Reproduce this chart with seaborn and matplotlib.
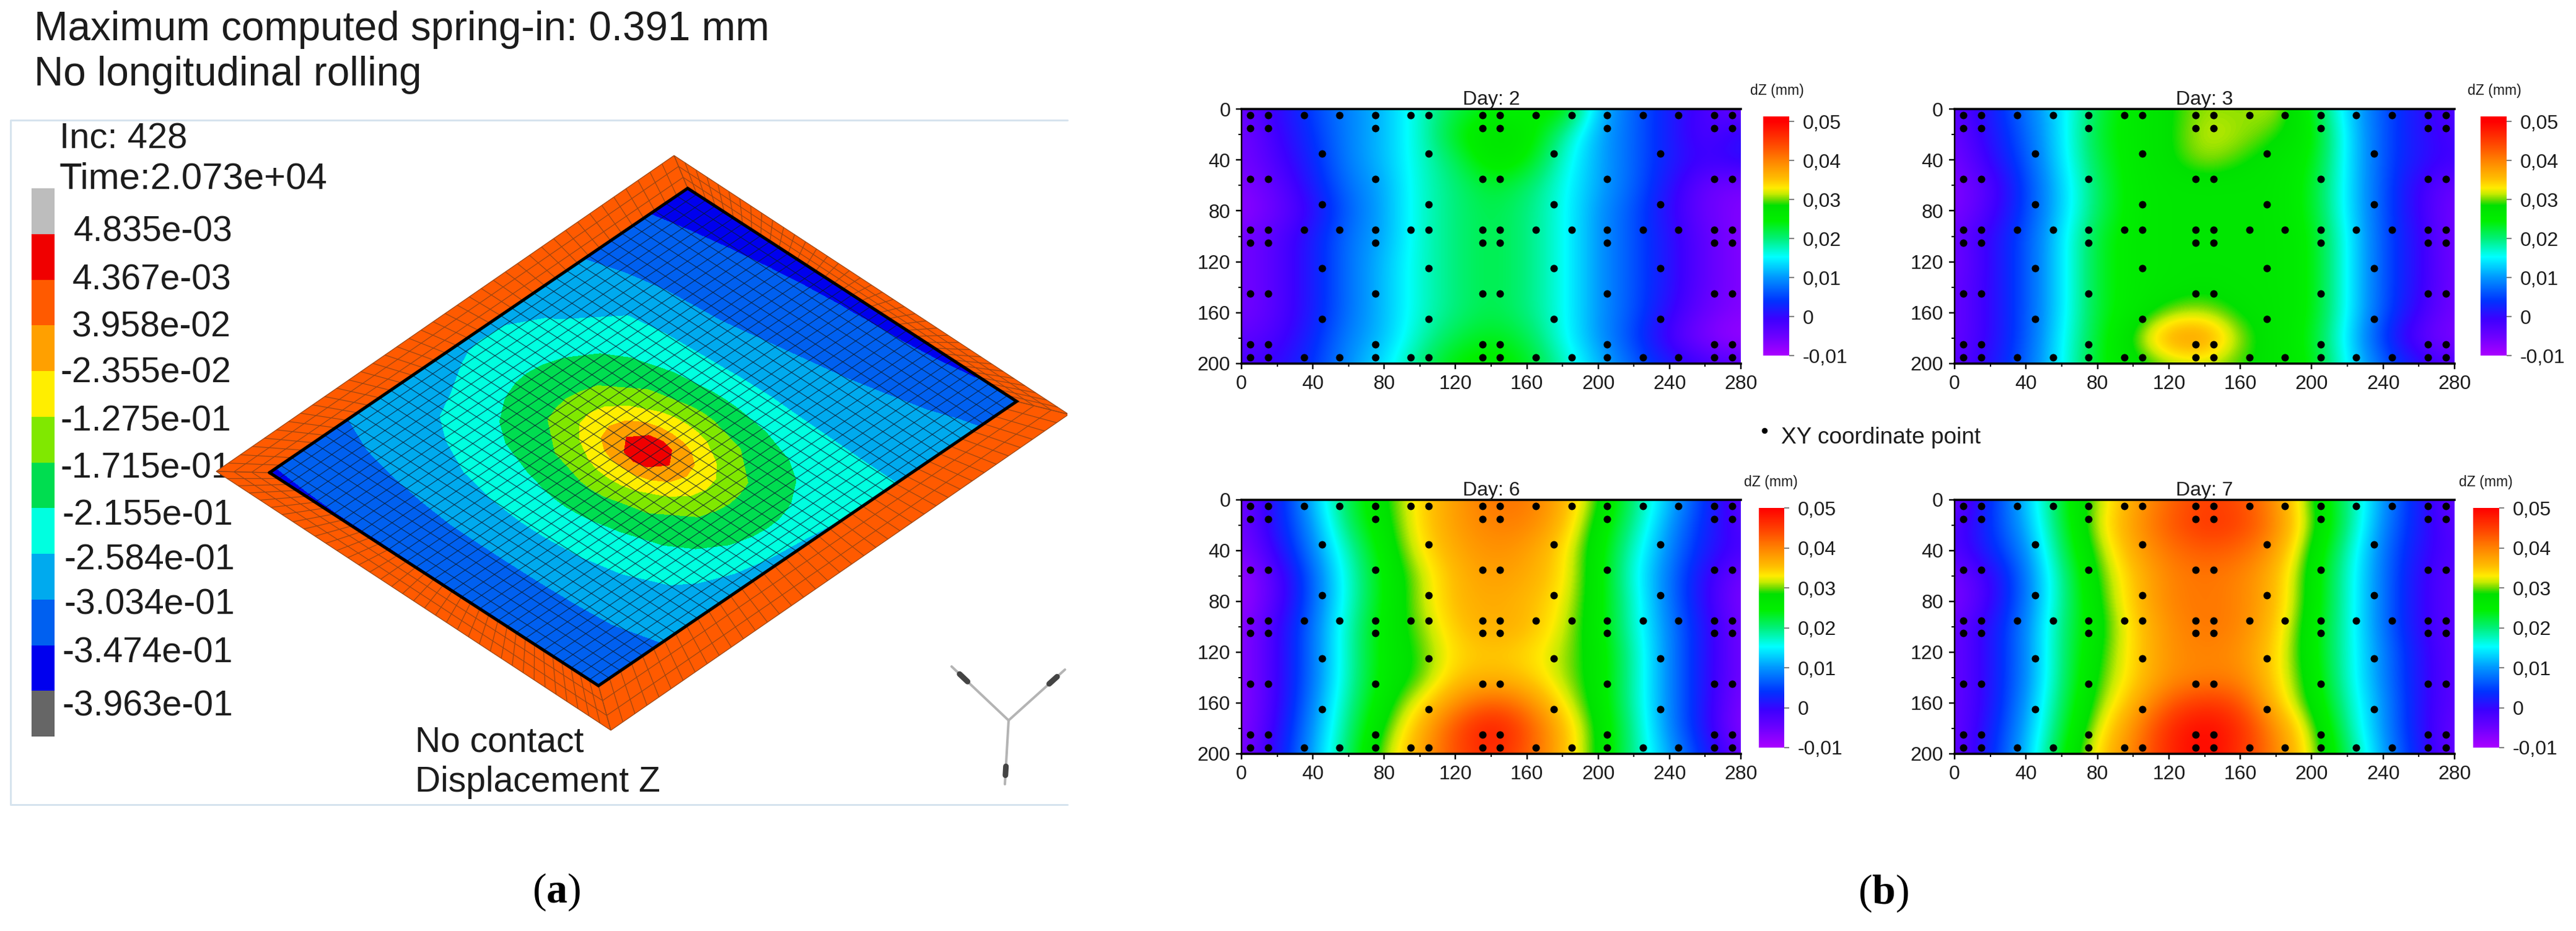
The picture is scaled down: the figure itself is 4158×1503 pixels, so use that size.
import numpy as np
import pandas as pd
import seaborn as sns
import matplotlib
matplotlib.use("Agg")
import matplotlib.pyplot as plt
from matplotlib.colors import LinearSegmentedColormap, ListedColormap
from matplotlib.patches import Rectangle

# (b) measured dZ in mm, rows are Y = 0..200, columns are X = 0..280, step 20 mm
grid_x = list(range(0, 281, 20))
grid_y = list(range(0, 201, 20))

day2_dz = [
    [-.005, .000, .005, .009, .012, .017, .022, .024, .024, .027, .012, .007, .002, -.002, -.005],
    [-.006, -.001, .004, .009, .012, .017, .024, .028, .027, .019, .011, .007, .002, -.003, .001],
    [-.006, -.002, .003, .009, .012, .017, .021, .027, .025, .017, .011, .007, .002, -.001, .001],
    [-.007, -.004, .002, .008, .011, .017, .020, .023, .021, .016, .011, .007, .001, -.005, -.006],
    [-.008, -.005, .000, .007, .011, .017, .020, .022, .020, .016, .010, .006, .000, -.005, -.007],
    [-.006, -.003, .002, .008, .011, .017, .020, .022, .020, .016, .010, .006, .001, -.004, -.007],
    [-.006, -.003, .002, .008, .012, .017, .020, .022, .020, .016, .010, .006, .001, -.004, -.007],
    [-.006, -.003, .002, .008, .012, .017, .020, .022, .020, .016, .010, .006, .001, -.004, -.007],
    [-.006, -.003, .002, .008, .012, .017, .020, .022, .020, .016, .010, .006, .000, -.005, -.007],
    [-.004, -.002, .003, .009, .012, .018, .022, .024, .022, .016, .010, .005, -.002, -.007, -.009],
    [-.002, .000, .004, .010, .014, .020, .025, .026, .024, .018, .012, .007, .002, -.001, -.003],
]
day3_dz = [
    [-.004, .002, .008, .014, .022, .026, .028, .031, .030, .032, .024, .013, .006, .001, -.003],
    [-.005, .001, .007, .014, .023, .026, .028, .032, .031, .029, .026, .014, .006, .001, -.002],
    [-.006, .000, .006, .014, .022, .026, .028, .031, .029, .027, .025, .014, .006, .001, -.001],
    [-.007, -.003, .005, .013, .021, .026, .027, .027, .027, .027, .024, .014, .006, -.001, -.005],
    [-.007, -.002, .005, .013, .021, .026, .027, .027, .027, .027, .024, .014, .006, -.001, -.006],
    [-.005, .000, .006, .014, .023, .026, .027, .027, .027, .027, .025, .015, .006, .000, -.006],
    [-.006, .000, .006, .014, .023, .026, .027, .027, .027, .027, .025, .015, .006, .000, -.006],
    [-.005, .000, .006, .014, .023, .026, .027, .028, .027, .027, .025, .015, .006, .000, -.006],
    [-.005, .000, .006, .014, .023, .026, .030, .031, .028, .027, .025, .015, .006, -.001, -.006],
    [-.005, .000, .006, .015, .023, .029, .039, .040, .030, .027, .024, .014, .004, -.004, -.007],
    [-.004, .001, .007, .015, .024, .027, .030, .031, .029, .027, .025, .015, .007, .001, -.003],
]
day6_dz = [
    [-.006, .002, .012, .022, .028, .034, .038, .041, .041, .037, .029, .020, .012, .004, -.004],
    [-.006, .002, .010, .021, .027, .034, .038, .040, .040, .036, .027, .019, .010, .003, -.003],
    [-.007, .000, .009, .018, .026, .033, .037, .039, .038, .034, .026, .017, .009, .002, -.002],
    [-.009, -.003, .007, .017, .025, .031, .036, .038, .037, .034, .026, .016, .008, .000, -.006],
    [-.009, -.003, .007, .017, .025, .031, .036, .037, .036, .033, .026, .017, .008, .000, -.007],
    [-.008, -.001, .008, .018, .026, .030, .035, .037, .036, .032, .026, .017, .009, .001, -.006],
    [-.008, -.001, .008, .018, .026, .029, .034, .035, .034, .031, .027, .018, .009, .001, -.006],
    [-.008, -.001, .008, .018, .026, .029, .035, .036, .035, .031, .027, .018, .009, .001, -.006],
    [-.008, -.001, .009, .019, .027, .033, .039, .043, .040, .033, .027, .018, .009, .001, -.007],
    [-.008, .000, .010, .020, .029, .036, .044, .049, .044, .036, .028, .019, .009, .001, -.008],
    [-.007, .001, .011, .021, .031, .037, .044, .047, .043, .036, .028, .019, .011, .003, -.005],
]
day7_dz = [
    [-.006, .004, .012, .023, .031, .037, .042, .045, .044, .039, .029, .020, .010, .002, -.005],
    [-.003, .004, .011, .022, .032, .038, .043, .046, .045, .040, .030, .020, .009, .002, -.004],
    [-.003, .003, .009, .021, .030, .037, .041, .043, .042, .038, .028, .018, .008, .001, -.003],
    [-.006, -.001, .008, .019, .029, .035, .040, .041, .040, .036, .027, .017, .008, .000, -.004],
    [-.007, -.001, .008, .019, .028, .035, .040, .041, .040, .036, .027, .017, .008, .000, -.004],
    [-.005, .001, .009, .020, .027, .034, .039, .041, .040, .035, .026, .017, .008, .000, -.004],
    [-.005, .001, .009, .020, .028, .034, .039, .040, .039, .034, .026, .017, .009, .001, -.004],
    [-.005, .001, .009, .020, .029, .034, .039, .040, .040, .034, .027, .017, .009, .001, -.004],
    [-.005, .001, .010, .021, .030, .036, .043, .046, .044, .035, .028, .018, .010, .001, -.004],
    [-.005, .002, .011, .022, .032, .039, .047, .050, .047, .039, .031, .019, .010, .001, -.005],
    [-.005, .003, .012, .024, .034, .040, .047, .050, .046, .040, .032, .021, .011, .002, -.005],
]
day_names = ["Day: 2", "Day: 3", "Day: 6", "Day: 7"]
day_fields = [day2_dz, day3_dz, day6_dz, day7_dz]

# XY coordinate points, three kinds of row
full_rows = [5, 95, 195]
full_xs = [5, 15, 35, 55, 75, 95, 105, 135, 145, 165, 185, 205, 225, 245, 265, 275]
mid_rows = [15, 55, 105, 145, 185]
mid_xs = [5, 15, 75, 135, 145, 205, 265, 275]
sparse_rows = [35, 75, 125, 165]
sparse_xs = [45, 105, 175, 235]

# colorbar of the (b) maps
scale_values = [-.01, -.0053, -.0007, .004, .01, .0153, .02, .0245, .0285, .03, .0315, .033, .0354, .04, .0443, .05, .0513]
scale_colors = ["#aa00ff", "#6e00ff", "#3c00ff", "#0032ff", "#0096ff", "#00ffff", "#00f078", "#00f000",
                "#00e100", "#6edc00", "#c8eb00", "#ffeb00", "#ffbe00", "#ff8200", "#ff4600", "#ff0000", "#ff0000"]
cbar_ticks = [-.01, 0, .01, .02, .03, .04, .05]
cbar_labels = ["-0,01", "0", "0,01", "0,02", "0,03", "0,04", "0,05"]

# (a) legend of the contour plot, top to bottom
legend_labels = ["4.835e-03", "4.367e-03", "3.958e-02", "-2.355e-02", "-1.275e-01", "-1.715e-01",
                 "-2.155e-01", "-2.584e-01", "-3.034e-01", "-3.474e-01", "-3.963e-01"]
legend_colors = ["#bdbdbd", "#f00000", "#ff5a00", "#ffa000", "#ffee00", "#80e800",
                 "#00dd50", "#00ffe0", "#00aaee", "#0060f0", "#0000ee", "#666666"]
legend_cells = [[i] for i in range(12)]

# (a) displacement Z over the plate, read at plate fractions a (across rows) and b (down)
plate_a = [0, .1, .2, .3, .36, .42, .45, .48, .51, .54, .6, .7, .8, .9, 1]
plate_b = [0, .1, .2, .3, .4, .47, .505, .54, .575, .61, .68, .78, .88, 1]
plate_dz = [
    [-.351, -.329, -.300, -.278, -.270, -.265, -.263, -.262, -.262, -.262, -.266, -.288, -.318, -.345, -.370],
    [-.350, -.322, -.288, -.265, -.258, -.252, -.249, -.248, -.249, -.250, -.256, -.274, -.313, -.340, -.368],
    [-.349, -.318, -.279, -.247, -.226, -.212, -.206, -.204, -.206, -.212, -.226, -.258, -.308, -.335, -.366],
    [-.349, -.315, -.270, -.229, -.201, -.177, -.171, -.169, -.171, -.177, -.201, -.252, -.305, -.330, -.364],
    [-.349, -.312, -.264, -.217, -.178, -.132, -.110, -.102, -.110, -.132, -.178, -.250, -.302, -.325, -.362],
    [-.349, -.312, -.262, -.210, -.168, -.098, -.059, -.044, -.059, -.098, -.168, -.249, -.300, -.322, -.361],
    [-.349, -.312, -.261, -.208, -.162, -.088, -.040, -.011, -.040, -.088, -.162, -.248, -.299, -.321, -.360],
    [-.349, -.312, -.261, -.207, -.160, -.085, -.030, -.003, -.030, -.085, -.160, -.248, -.298, -.320, -.360],
    [-.349, -.312, -.261, -.208, -.162, -.088, -.040, -.011, -.040, -.088, -.162, -.248, -.297, -.319, -.359],
    [-.349, -.312, -.262, -.210, -.168, -.098, -.059, -.044, -.059, -.098, -.168, -.248, -.296, -.318, -.359],
    [-.349, -.312, -.264, -.217, -.178, -.132, -.110, -.102, -.110, -.132, -.178, -.250, -.294, -.316, -.358],
    [-.348, -.312, -.270, -.229, -.201, -.177, -.171, -.169, -.171, -.177, -.201, -.252, -.290, -.312, -.355],
    [-.345, -.312, -.279, -.247, -.226, -.212, -.206, -.204, -.206, -.212, -.226, -.254, -.285, -.308, -.350],
    [-.340, -.309, -.298, -.282, -.278, -.272, -.270, -.268, -.265, -.262, -.258, -.256, -.275, -.300, -.330],
]
plate_levels = [-.3963, -.3474, -.3034, -.2584, -.2155, -.1715, -.1275, -.0835, -.0395, .0048]
plate_colors = ["#0000ee", "#0060f0", "#00aaee", "#00ffe0", "#00dd50", "#80e800", "#ffee00", "#ffa000", "#f00000"]

W, H = 4158, 1503
sns.set_theme(style="white")
plt.rcParams["font.family"] = ["Liberation Sans", "DejaVu Sans"]
plt.rcParams["mathtext.fontset"] = "custom"
plt.rcParams["mathtext.rm"] = "Liberation Serif"
plt.rcParams["mathtext.bf"] = "Liberation Serif:bold"


def pt(px):
    return px * 0.72


def px_axes(l, t, r, b):
    return fig.add_axes([l / W, 1 - b / H, (r - l) / W, (b - t) / H])


fig = plt.figure(figsize=(W / 100, H / 100), dpi=100)
canvas = fig.add_axes([0, 0, 1, 1])
canvas.set_xlim(0, W)
canvas.set_ylim(H, 0)
canvas.axis("off")

# ---- panel a ----
ink = "#1c1c1c"
canvas.text(55, 65, "Maximum computed spring-in: 0.391 mm", fontsize=pt(65.5), color=ink, va="baseline")
canvas.text(55, 138, "No longitudinal rolling", fontsize=pt(65.5), color=ink, va="baseline")
canvas.plot([1723, 17, 17, 1723], [194, 194, 1299, 1299], color="#d6e3ee", lw=pt(3))
canvas.text(96, 225, "Inc: 428", fontsize=pt(58), color=ink, va="center")
canvas.text(96, 289, "Time:2.073e+04", fontsize=pt(60), color=ink, va="center")
canvas.text(670, 1198, "No contact", fontsize=pt(57), color=ink, va="center")
canvas.text(670, 1263, "Displacement Z", fontsize=pt(57), color=ink, va="center")

legend_y = [375, 453, 528, 603, 681, 756, 833, 904, 976, 1055, 1141]
legend_x = [376, 373, 373, 373, 373, 373, 376, 379, 379, 376, 376]
for lab, lx, ly in zip(legend_labels, legend_x, legend_y):
    canvas.text(lx, ly, lab, fontsize=pt(57), color=ink, ha="right", va="center")

strip_ax = px_axes(51, 304, 88, 1189)
sns.heatmap(legend_cells, cmap=ListedColormap(legend_colors), cbar=False, ax=strip_ax,
            xticklabels=False, yticklabels=False, vmin=0, vmax=11)

# plate corners in pixels: left, top, right, bottom
in_l, in_t, in_b = np.array([435, 763]), np.array([1110, 304]), np.array([966, 1107])
in_r = in_t + in_b - in_l
out_l, out_t, out_b = np.array([349, 761]), np.array([1088, 251]), np.array([986, 1179])
out_r = out_t + out_b - out_l
clip = Rectangle((17, 194), 1706, 1105, transform=canvas.transData)


def plate_xy(a, b):
    return (in_l[0] + a * (in_t[0] - in_l[0]) + b * (in_b[0] - in_l[0]),
            in_l[1] + a * (in_t[1] - in_l[1]) + b * (in_b[1] - in_l[1]))


def mesh_lines(c00, c10, c01, c11, nu, nv, color, lw, alpha=1):
    for u in np.linspace(0, 1, nu + 1):
        p0, p1 = c00 + u * (c10 - c00), c01 + u * (c11 - c01)
        ln, = canvas.plot([p0[0], p1[0]], [p0[1], p1[1]], color=color, lw=lw, alpha=alpha, zorder=4, solid_capstyle="butt")
        ln.set_clip_path(clip)
    for v in np.linspace(0, 1, nv + 1):
        p0, p1 = c00 + v * (c01 - c00), c10 + v * (c11 - c10)
        ln, = canvas.plot([p0[0], p1[0]], [p0[1], p1[1]], color=color, lw=lw, alpha=alpha, zorder=4, solid_capstyle="butt")
        ln.set_clip_path(clip)


# flange ring, then the field on top
ring = canvas.fill([out_l[0], out_t[0], out_r[0], out_b[0]], [out_l[1], out_t[1], out_r[1], out_b[1]],
                   color="#ff5a00", zorder=3, lw=0)[0]
ring.set_clip_path(clip)
mesh_lines(out_l, out_t, in_l, in_t, 38, 3, "#9a4512", pt(1.2))
mesh_lines(out_t, out_r, in_t, in_r, 36, 3, "#9a4512", pt(1.2))
mesh_lines(out_r, out_b, in_r, in_b, 38, 3, "#9a4512", pt(1.2))
mesh_lines(out_b, out_l, in_b, in_l, 36, 3, "#9a4512", pt(1.2))

aa, bb = np.meshgrid(plate_a, plate_b)
px, py = plate_xy(aa, bb)
cf = canvas.contourf(px, py, np.array(plate_dz), levels=plate_levels, colors=plate_colors, zorder=3.5)
mesh_lines(in_l, in_t, in_b, in_r, 38, 36, "#0a1a30", pt(1.3), alpha=0.7)
edge_x = [in_l[0], in_t[0], in_r[0], in_b[0], in_l[0]]
edge_y = [in_l[1], in_t[1], in_r[1], in_b[1], in_l[1]]
canvas.plot(edge_x, edge_y, color="black", lw=pt(5), zorder=5, solid_joinstyle="miter")

# triad
for arm_x, arm_y in [([1628, 1536], [1163, 1076]), ([1628, 1719], [1163, 1081]), ([1628, 1622], [1163, 1266])]:
    canvas.plot(arm_x, arm_y, color="#b4b4b4", lw=pt(4), zorder=3)
    tip_x = arm_x[0] + np.array([.72, .86]) * (arm_x[1] - arm_x[0])
    tip_y = arm_y[0] + np.array([.72, .86]) * (arm_y[1] - arm_y[0])
    canvas.plot(tip_x, tip_y, color="#444444", lw=pt(9), zorder=3)

canvas.text(898, 1440, r"$\mathrm{(}\mathbf{a}\mathrm{)}$", fontsize=pt(68), ha="center", va="center", color="black")
canvas.text(3040, 1442, r"$\mathrm{(}\mathbf{b}\mathrm{)}$", fontsize=pt(68), ha="center", va="center", color="black")

# ---- panel b ----
points = pd.concat(
    [pd.DataFrame({"x": np.repeat(xs, len(rows)), "y": np.tile(rows, len(xs))})
     for xs, rows in [(full_xs, full_rows), (mid_xs, mid_rows), (sparse_xs, sparse_rows)]],
    ignore_index=True)
step = grid_x[1] - grid_x[0]
scale_cmap = LinearSegmentedColormap.from_list(
    "dz", [((v - scale_values[0]) / (scale_values[-1] - scale_values[0]), c) for v, c in zip(scale_values, scale_colors)], N=512)

map_boxes = [(2004, 176, 2810, 587), (3155, 176, 3962, 587), (2004, 807, 2810, 1217), (3155, 807, 3962, 1217)]
bar_boxes = [(2846, 188, 2888, 574), (4004, 188, 4046, 574), (2839, 820, 2880, 1207), (3992, 820, 4034, 1207)]
dz_pos = [(2868, 147), (4026, 147), (2858, 778), (4012, 779)]

for name, field, box, bar, dz in zip(day_names, day_fields, map_boxes, bar_boxes, dz_pos):
    ax = px_axes(*box)
    cax = px_axes(*bar)
    frame = pd.DataFrame(field, index=grid_y, columns=grid_x)
    sns.heatmap(frame, cmap=scale_cmap, vmin=scale_values[0], vmax=scale_values[-1], ax=ax, cbar_ax=cax,
                xticklabels=False, yticklabels=False, shading="gouraud",
                cbar_kws={"ticks": cbar_ticks})
    # heatmap gives the axes and colorbar, bicubic on top smooths the cells like the original contour map
    ax.imshow(frame.to_numpy(), cmap=scale_cmap, vmin=scale_values[0], vmax=scale_values[-1], aspect="auto",
              interpolation="bicubic", interpolation_stage="data",
              extent=(-.5, len(grid_x) - .5, len(grid_y) - .5, -.5), zorder=2)
    sns.scatterplot(x=points["x"] / step, y=points["y"] / step, ax=ax, color="black", marker="o",
                    s=pt(12) ** 2, linewidth=0, legend=False, zorder=5)
    ax.set_xlim(0, len(grid_x) - 1)
    ax.set_ylim(len(grid_y) - 1, 0)
    ax.set_xticks(range(0, len(grid_x), 2), [str(v) for v in grid_x[::2]])
    ax.set_yticks(range(0, len(grid_y), 2), [str(v) for v in grid_y[::2]], rotation=0)
    ax.set_xticks(range(1, len(grid_x), 2), minor=True)
    ax.set_yticks(range(1, len(grid_y), 2), minor=True)
    ax.tick_params(which="major", bottom=True, left=True, length=pt(9), width=pt(2.5), labelsize=pt(32),
                   color="black", labelcolor=ink, pad=pt(9))
    ax.tick_params(which="minor", bottom=True, left=True, length=pt(5), width=pt(2), color="black")
    for side, lw in [("left", 2.5), ("top", 3.5), ("bottom", 3.5)]:
        ax.spines[side].set_visible(True)
        ax.spines[side].set_color("black")
        ax.spines[side].set_linewidth(pt(lw))
    ax.spines["right"].set_visible(False)
    ax.set_title(name, fontsize=pt(32), color=ink, pad=pt(6))
    ax.set_xlabel("X (mm)", fontsize=pt(33), color=ink, labelpad=pt(24))
    ax.set_ylabel("Y (mm)", fontsize=pt(33), color=ink, labelpad=pt(14))

    if box[1] > 500:
        cax.set_ylim(-.01, .05)
    cax.set_yticks(cbar_ticks, cbar_labels)
    cax.tick_params(right=True, length=pt(8), width=pt(1.5), labelsize=pt(32), labelcolor=ink, pad=pt(14), color="#555555")
    canvas.text(dz[0], dz[1], "dZ (mm)", fontsize=pt(23), ha="center", va="center", color=ink)

canvas.plot([2848], [695], marker="o", ms=pt(8), color="black", ls="none")
canvas.text(2875, 706, "XY coordinate point", fontsize=pt(37), color=ink, va="center")

fig.savefig("out.png", dpi=100)
